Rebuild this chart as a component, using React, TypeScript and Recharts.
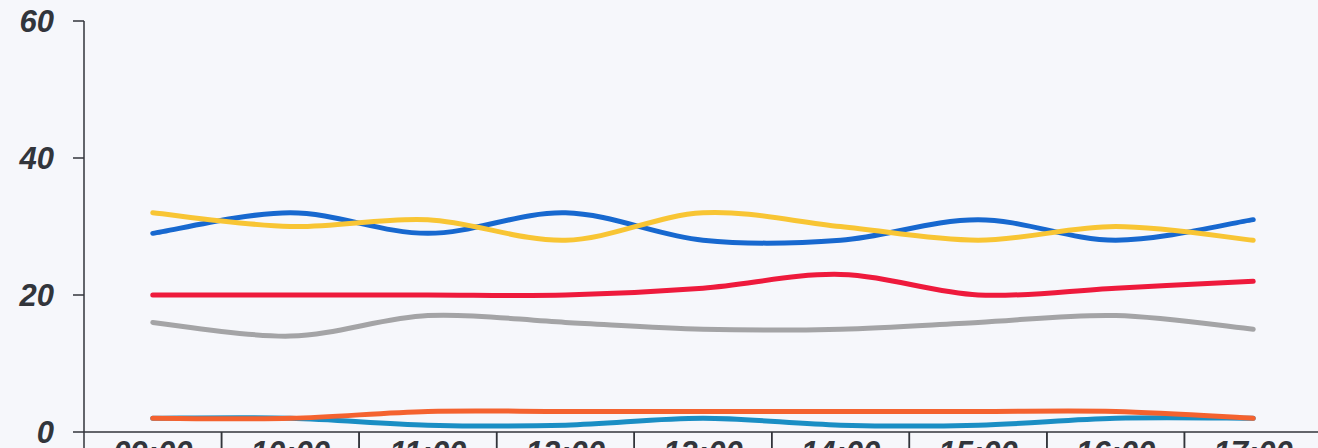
import React from "react";
import { LineChart, Line, XAxis, YAxis } from "recharts";

const hours = ["09:00", "10:00", "11:00", "12:00", "13:00", "14:00", "15:00", "16:00", "17:00"];
const blueSeries = [29, 32, 29, 32, 28, 28, 31, 28, 31];
const yellowSeries = [32, 30, 31, 28, 32, 30, 28, 30, 28];
const redSeries = [20, 20, 20, 20, 21, 23, 20, 21, 22];
const graySeries = [16, 14, 17, 16, 15, 15, 16, 17, 15];
const tealSeries = [2, 2, 1, 1, 2, 1, 1, 2, 2];
const orangeSeries = [2, 2, 3, 3, 3, 3, 3, 3, 2];
const yTicks = [0, 20, 40, 60];

const data = hours.map((hour, i) => ({
  hour,
  blue: blueSeries[i],
  yellow: yellowSeries[i],
  red: redSeries[i],
  gray: graySeries[i],
  teal: tealSeries[i],
  orange: orangeSeries[i],
}));

const CHART_W = 1340;
const CHART_H = 448;
const AXIS_W = 84;
const RIGHT = 18;
const BAND = (CHART_W - AXIS_W - RIGHT) / hours.length;
const INK = "#32353b";
const FONT = "'Liberation Sans', Arial, sans-serif";

// excel-like smoothed line (catmull-rom through the points)
function smoothCurve(context: any) {
  let pts: number[][] = [];
  const draw = () => {
    const n = pts.length;
    if (!n) return;
    context.moveTo(pts[0][0], pts[0][1]);
    for (let i = 0; i < n - 1; i++) {
      const p0 = pts[i - 1] || pts[i];
      const p1 = pts[i];
      const p2 = pts[i + 1];
      const p3 = pts[i + 2] || p2;
      context.bezierCurveTo(
        p1[0] + (p2[0] - p0[0]) / 6,
        p1[1] + (p2[1] - p0[1]) / 6,
        p2[0] - (p3[0] - p1[0]) / 6,
        p2[1] - (p3[1] - p1[1]) / 6,
        p2[0],
        p2[1]
      );
    }
  };
  return {
    areaStart() {},
    areaEnd() {},
    lineStart() {
      pts = [];
    },
    lineEnd() {
      draw();
    },
    point(x: number, y: number) {
      pts.push([+x, +y]);
    },
  };
}

function HourTick({ x, y, payload }: any) {
  const left = x - BAND / 2;
  return (
    <g>
      <line x1={left} y1={y} x2={left} y2={y + 24} stroke={INK} strokeWidth={1.5} />
      <line x1={left + BAND} y1={y} x2={left + BAND} y2={y + 24} stroke={INK} strokeWidth={1.5} />
      <text
        x={x}
        y={y + 31}
        textAnchor="middle"
        fill={INK}
        style={{ fontFamily: FONT, fontSize: 31, fontWeight: 700, fontStyle: "italic" }}
      >
        {payload.value}
      </text>
    </g>
  );
}

const series = [
  { key: "blue", color: "#1768cf" },
  { key: "yellow", color: "#f8c534" },
  { key: "gray", color: "#a4a4a6" },
  { key: "red", color: "#ee1a3c" },
  { key: "teal", color: "#1a8ec4" },
  { key: "orange", color: "#f4622f" },
];

export default function App() {
  return (
    <div
      style={{
        position: "absolute",
        left: 0,
        top: 0,
        width: 1318,
        height: 448,
        overflow: "hidden",
        background: "#f6f7fb",
      }}
    >
      <LineChart
        width={CHART_W}
        height={CHART_H}
        data={data}
        margin={{ top: 21, right: RIGHT, left: 0, bottom: 0 }}
      >
        <XAxis
          dataKey="hour"
          scale="point"
          padding={{ left: BAND / 2, right: BAND / 2 }}
          height={16}
          axisLine={{ stroke: INK, strokeWidth: 1.5 }}
          tickLine={false}
          tickSize={0}
          tickMargin={0}
          interval={0}
          tick={<HourTick />}
        />
        <YAxis
          domain={[0, 60]}
          ticks={yTicks}
          interval={0}
          width={AXIS_W}
          axisLine={{ stroke: INK, strokeWidth: 1.5 }}
          tickLine={{ stroke: INK, strokeWidth: 1.5 }}
          tickSize={11}
          tickMargin={19}
          tick={{
            fill: INK,
            fontFamily: FONT,
            fontSize: 31,
            fontWeight: 700,
            fontStyle: "italic",
          }}
        />
        {series.map((s) => (
          <Line
            key={s.key}
            dataKey={s.key}
            type={smoothCurve as any}
            stroke={s.color}
            strokeWidth={5}
            strokeLinecap="round"
            dot={false}
            activeDot={false}
            isAnimationActive={false}
          />
        ))}
      </LineChart>
    </div>
  );
}
